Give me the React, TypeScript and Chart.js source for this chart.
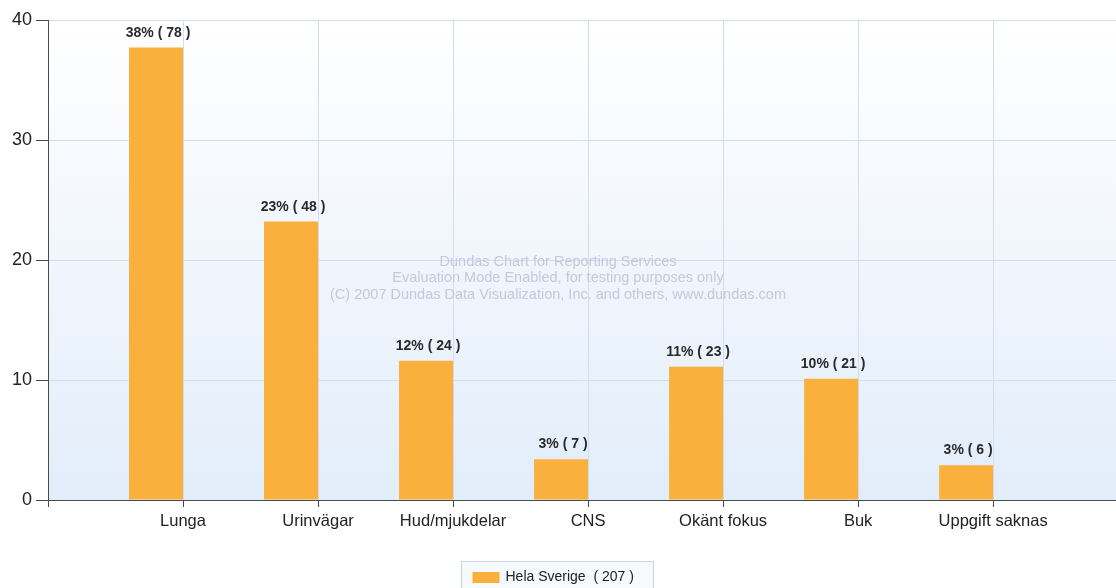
import React, { useEffect, useRef } from 'react';
import { Chart, registerables } from 'chart.js';

Chart.register(...registerables);

const categories = ['Lunga', 'Urinvägar', 'Hud/mjukdelar', 'CNS', 'Okänt fokus', 'Buk', 'Uppgift saknas'];
const percentValues = [37.7, 23.2, 11.6, 3.4, 11.1, 10.1, 2.9];
const percentLabels = [38, 23, 12, 3, 11, 10, 3];
const counts = [78, 48, 24, 7, 23, 21, 6];
const seriesName = 'Hela Sverige';
const seriesTotal = 207;
const yMin = 0;
const yMax = 40;
const yStep = 10;
const watermarkLines = [
  'Dundas Chart for Reporting Services',
  'Evaluation Mode Enabled, for testing purposes only',
  '(C) 2007 Dundas Data Visualization, Inc. and others, www.dundas.com',
];

const FONT = '"Liberation Sans", Arial, Helvetica, sans-serif';
const BAR_COLOR = '#f9b03c';
const GRID_COLOR = '#d2ddef';
const AXIS_COLOR = '#4a4a4a';
const TEXT_COLOR = '#222222';

const backgroundPlugin = {
  id: 'bgGradient',
  beforeDraw(chart: any) {
    const { ctx, chartArea: a } = chart;
    ctx.save();
    ctx.fillStyle = '#ffffff';
    ctx.fillRect(0, 0, chart.width, chart.height);
    const g = ctx.createLinearGradient(0, a.top, 0, a.bottom);
    g.addColorStop(0, '#ffffff');
    g.addColorStop(1, '#e2edfa');
    ctx.fillStyle = g;
    ctx.fillRect(a.left, a.top, a.right - a.left, a.bottom - a.top);
    ctx.restore();
  },
};

const watermarkPlugin = {
  id: 'watermark',
  beforeDatasetsDraw(chart: any) {
    const { ctx } = chart;
    ctx.save();
    ctx.font = `14.5px ${FONT}`;
    ctx.fillStyle = '#c2cadb';
    ctx.textAlign = 'center';
    ctx.textBaseline = 'middle';
    const cx = chart.width / 2;
    const cy = 278;
    watermarkLines.forEach((line, i) => {
      ctx.fillText(line, cx, cy + (i - 1) * 16.5);
    });
    ctx.restore();
  },
};

const valueLabelPlugin = {
  id: 'valueLabels',
  afterDatasetsDraw(chart: any) {
    const { ctx } = chart;
    const meta = chart.getDatasetMeta(0);
    ctx.save();
    ctx.font = `bold 14px ${FONT}`;
    ctx.fillStyle = '#2a2a2a';
    ctx.textAlign = 'center';
    ctx.textBaseline = 'alphabetic';
    meta.data.forEach((bar: any, i: number) => {
      ctx.fillText(`${percentLabels[i]}% ( ${counts[i]} )`, bar.x + 2, bar.y - 11);
    });
    ctx.restore();
  },
};

const boxLegendPlugin = {
  id: 'boxLegend',
  afterDraw(chart: any) {
    const { ctx, chartArea } = chart;
    const text = `${seriesName}  ( ${seriesTotal} )`;
    ctx.save();
    ctx.font = `14px ${FONT}`;
    const tw = ctx.measureText(text).width;
    const w = Math.round(11 + 27 + 7 + tw + 19);
    const left = Math.round(chart.width / 2 - w / 2) - 0.5;
    const top = chartArea.bottom + 61.5;
    ctx.fillStyle = '#f7fafd';
    ctx.fillRect(left, top, w, 40);
    ctx.strokeStyle = '#c6d4e6';
    ctx.lineWidth = 1;
    ctx.strokeRect(left, top, w, 40);
    ctx.fillStyle = BAR_COLOR;
    ctx.fillRect(left + 11, top + 10.5, 27, 11);
    ctx.fillStyle = TEXT_COLOR;
    ctx.textAlign = 'left';
    ctx.textBaseline = 'middle';
    ctx.fillText(text, left + 44, top + 16);
    ctx.restore();
  },
};

export default function App() {
  const canvasRef = useRef<HTMLCanvasElement | null>(null);

  useEffect(() => {
    document.body.style.margin = '0';
    const canvas = canvasRef.current;
    if (!canvas) return;
    const chart = new Chart(canvas, {
      type: 'bar',
      data: {
        datasets: [
          {
            label: seriesName,
            data: categories.map((_, i) => ({ x: i + 1, y: percentValues[i] })),
            backgroundColor: BAR_COLOR,
            borderWidth: 0,
            categoryPercentage: 0.8,
            barPercentage: 1,
          },
          {
            label: '',
            data: [],
            backgroundColor: 'rgba(0,0,0,0)',
            borderWidth: 0,
            categoryPercentage: 0.8,
            barPercentage: 1,
          },
        ],
      },
      options: {
        responsive: false,
        animation: false,
        devicePixelRatio: 1,
        layout: { padding: { top: 20, right: 0, bottom: 0, left: 0 } },
        plugins: {
          legend: { display: false },
          tooltip: { enabled: false },
        },
        scales: {
          x: {
            type: 'linear',
            min: 0,
            max: 7.91,
            offset: false,
            afterFit: (s: any) => {
              s.height = 88;
            },
            ticks: {
              stepSize: 1,
              includeBounds: false,
              autoSkip: false,
              maxRotation: 0,
              padding: 5,
              color: TEXT_COLOR,
              font: { family: FONT, size: 16.5 },
              callback: (v: any) => categories[Number(v) - 1] ?? '',
            },
            grid: {
              offset: false,
              color: (c: any) => (c.tick && c.tick.value === 0 ? 'rgba(0,0,0,0)' : GRID_COLOR),
              tickColor: AXIS_COLOR,
              tickLength: 7,
              lineWidth: 1,
            },
            border: { color: AXIS_COLOR, width: 1 },
          },
          y: {
            type: 'linear',
            min: yMin,
            max: yMax,
            afterFit: (s: any) => {
              s.width = 48;
            },
            ticks: {
              stepSize: yStep,
              padding: 4,
              color: TEXT_COLOR,
              font: { family: FONT, size: 18 },
            },
            grid: {
              color: (c: any) => (c.tick && c.tick.value === 0 ? 'rgba(0,0,0,0)' : GRID_COLOR),
              tickColor: AXIS_COLOR,
              tickLength: 12,
              lineWidth: 1,
            },
            border: { color: AXIS_COLOR, width: 1 },
          },
        },
      } as any,
      plugins: [backgroundPlugin, watermarkPlugin, valueLabelPlugin, boxLegendPlugin],
    });
    return () => chart.destroy();
  }, []);

  return (
    <div style={{ width: 1116, height: 588, overflow: 'hidden' }}>
      <canvas ref={canvasRef} width={1116} height={588} style={{ display: 'block' }} />
    </div>
  );
}
